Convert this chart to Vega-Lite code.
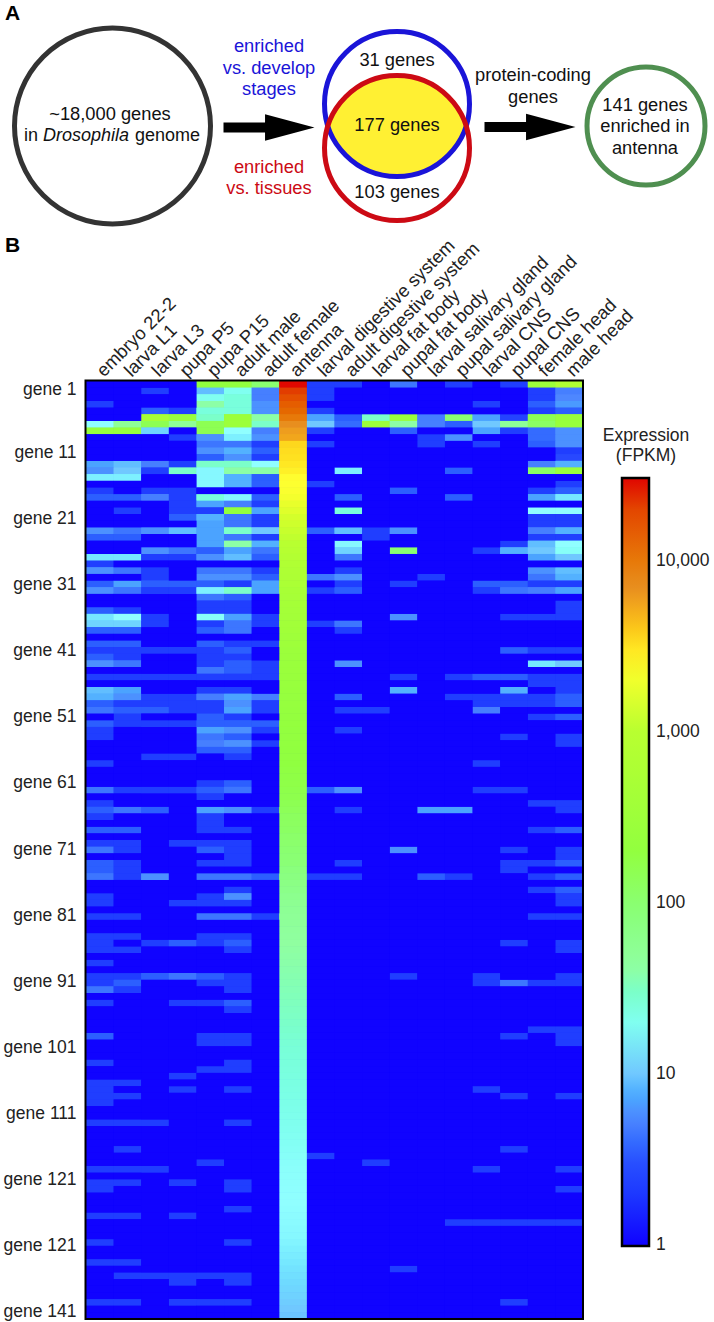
{"$schema":"https://vega.github.io/schema/vega-lite/v6.json","width":497,"height":938,"autosize":{"type":"none"},"padding":{"left":86,"top":381,"right":131,"bottom":3},"background":"white","config":{"view":{"stroke":null,"fill":"#1500ff"},"font":"Liberation Sans","text":{"font":"Liberation Sans"}},"resolve":{"scale":{"x":"independent","y":"independent","color":"independent"}},"layer":[{"data":{"values":[
{"g":1,"s":5,"v":200},{"g":1,"s":6,"v":200},{"g":1,"s":7,"v":100},{"g":1,"s":8,"v":30000},{"g":1,"s":9,"v":2.2},{"g":1,"s":10,"v":2.2},{"g":1,"s":12,"v":4.5},{"g":1,"s":14,"v":2.2},{"g":1,"s":16,"v":2.2},{"g":1,"s":17,"v":300},{"g":1,"s":18,"v":700},
{"g":2,"s":3,"v":2.2},{"g":2,"s":5,"v":9},{"g":2,"s":6,"v":20},{"g":2,"s":7,"v":5},{"g":2,"s":8,"v":22000},{"g":2,"s":9,"v":2.2},{"g":2,"s":17,"v":2.2},{"g":2,"s":18,"v":5},
{"g":3,"s":5,"v":20},{"g":3,"s":6,"v":25},{"g":3,"s":7,"v":5},{"g":3,"s":8,"v":18000},{"g":3,"s":9,"v":2.2},{"g":3,"s":17,"v":2.2},{"g":3,"s":18,"v":5.5},
{"g":4,"s":1,"v":2.2},{"g":4,"s":5,"v":40},{"g":4,"s":6,"v":25},{"g":4,"s":7,"v":6},{"g":4,"s":8,"v":15000},{"g":4,"s":15,"v":2.2},{"g":4,"s":17,"v":3.5},{"g":4,"s":18,"v":6.5},
{"g":5,"s":3,"v":3.5},{"g":5,"s":4,"v":2.2},{"g":5,"s":5,"v":25},{"g":5,"s":6,"v":25},{"g":5,"s":7,"v":6},{"g":5,"s":8,"v":13000},{"g":5,"s":9,"v":2.2},{"g":5,"s":17,"v":2.2},{"g":5,"s":18,"v":3.5},
{"g":6,"s":3,"v":450},{"g":6,"s":4,"v":250},{"g":6,"s":5,"v":30},{"g":6,"s":6,"v":300},{"g":6,"s":7,"v":40},{"g":6,"s":8,"v":10000},{"g":6,"s":9,"v":7},{"g":6,"s":10,"v":3.5},{"g":6,"s":11,"v":30},{"g":6,"s":12,"v":280},{"g":6,"s":13,"v":5},{"g":6,"s":14,"v":100},{"g":6,"s":15,"v":7},{"g":6,"s":16,"v":2.5},{"g":6,"s":17,"v":150},{"g":6,"s":18,"v":250},
{"g":7,"s":1,"v":16},{"g":7,"s":2,"v":50},{"g":7,"s":3,"v":150},{"g":7,"s":4,"v":50},{"g":7,"s":5,"v":150},{"g":7,"s":6,"v":300},{"g":7,"s":7,"v":30},{"g":7,"s":8,"v":7000},{"g":7,"s":9,"v":10},{"g":7,"s":10,"v":4},{"g":7,"s":11,"v":300},{"g":7,"s":12,"v":40},{"g":7,"s":13,"v":5},{"g":7,"s":14,"v":3.5},{"g":7,"s":15,"v":10},{"g":7,"s":16,"v":50},{"g":7,"s":17,"v":120},{"g":7,"s":18,"v":250},
{"g":8,"s":1,"v":250},{"g":8,"s":2,"v":250},{"g":8,"s":3,"v":11},{"g":8,"s":5,"v":150},{"g":8,"s":6,"v":16},{"g":8,"s":7,"v":5},{"g":8,"s":8,"v":6000},{"g":8,"s":9,"v":2.2},{"g":8,"s":12,"v":3.5},{"g":8,"s":15,"v":7},{"g":8,"s":16,"v":2.2},{"g":8,"s":17,"v":4},{"g":8,"s":18,"v":6},
{"g":9,"s":4,"v":2.2},{"g":9,"s":5,"v":6},{"g":9,"s":6,"v":14},{"g":9,"s":7,"v":6},{"g":9,"s":8,"v":5500},{"g":9,"s":13,"v":2.2},{"g":9,"s":14,"v":6},{"g":9,"s":17,"v":4},{"g":9,"s":18,"v":6},
{"g":10,"s":5,"v":4.5},{"g":10,"s":6,"v":4.5},{"g":10,"s":7,"v":2.2},{"g":10,"s":8,"v":3500},{"g":10,"s":9,"v":2.2},{"g":10,"s":13,"v":2.2},{"g":10,"s":15,"v":2.2},{"g":10,"s":17,"v":3.5},{"g":10,"s":18,"v":6},
{"g":11,"s":5,"v":6},{"g":11,"s":6,"v":8},{"g":11,"s":7,"v":3.5},{"g":11,"s":8,"v":3300},{"g":11,"s":18,"v":2.2},
{"g":12,"s":5,"v":3.5},{"g":12,"s":6,"v":6},{"g":12,"s":7,"v":2.2},{"g":12,"s":8,"v":3200},{"g":12,"s":18,"v":2.8},
{"g":13,"s":1,"v":7},{"g":13,"s":2,"v":9},{"g":13,"s":3,"v":5},{"g":13,"s":4,"v":2.2},{"g":13,"s":5,"v":30},{"g":13,"s":6,"v":30},{"g":13,"s":7,"v":16},{"g":13,"s":8,"v":3000},{"g":13,"s":17,"v":5},{"g":13,"s":18,"v":8},
{"g":14,"s":1,"v":6},{"g":14,"s":2,"v":10},{"g":14,"s":3,"v":2.2},{"g":14,"s":4,"v":30},{"g":14,"s":5,"v":15},{"g":14,"s":6,"v":40},{"g":14,"s":7,"v":40},{"g":14,"s":8,"v":2800},{"g":14,"s":10,"v":14},{"g":14,"s":14,"v":3.5},{"g":14,"s":17,"v":120},{"g":14,"s":18,"v":300},
{"g":15,"s":1,"v":14},{"g":15,"s":2,"v":14},{"g":15,"s":5,"v":15},{"g":15,"s":6,"v":8},{"g":15,"s":7,"v":3.5},{"g":15,"s":8,"v":2500},
{"g":16,"s":5,"v":15},{"g":16,"s":6,"v":8},{"g":16,"s":7,"v":3.5},{"g":16,"s":8,"v":2400},{"g":16,"s":9,"v":2.2},{"g":16,"s":18,"v":2.2},
{"g":17,"s":1,"v":2.2},{"g":17,"s":3,"v":2.2},{"g":17,"s":4,"v":2.2},{"g":17,"s":8,"v":2300},{"g":17,"s":12,"v":3.5},{"g":17,"s":17,"v":2.2},{"g":17,"s":18,"v":3.5},
{"g":18,"s":1,"v":3.5},{"g":18,"s":2,"v":3.5},{"g":18,"s":3,"v":5},{"g":18,"s":4,"v":2.2},{"g":18,"s":5,"v":25},{"g":18,"s":6,"v":15},{"g":18,"s":7,"v":3.5},{"g":18,"s":8,"v":2100},{"g":18,"s":10,"v":3.5},{"g":18,"s":14,"v":3.5},{"g":18,"s":17,"v":7},{"g":18,"s":18,"v":13},
{"g":19,"s":4,"v":2.2},{"g":19,"s":5,"v":7},{"g":19,"s":6,"v":5},{"g":19,"s":7,"v":2.2},{"g":19,"s":8,"v":1800},
{"g":20,"s":2,"v":2.2},{"g":20,"s":4,"v":2.2},{"g":20,"s":5,"v":2.2},{"g":20,"s":6,"v":200},{"g":20,"s":7,"v":7},{"g":20,"s":8,"v":1600},{"g":20,"s":10,"v":25},{"g":20,"s":17,"v":16},{"g":20,"s":18,"v":16},
{"g":21,"s":4,"v":3.5},{"g":21,"s":5,"v":8},{"g":21,"s":6,"v":4.5},{"g":21,"s":7,"v":2.2},{"g":21,"s":8,"v":1400},{"g":21,"s":17,"v":2.2},{"g":21,"s":18,"v":2.2},
{"g":22,"s":5,"v":7},{"g":22,"s":6,"v":4.5},{"g":22,"s":7,"v":2.2},{"g":22,"s":8,"v":1300},{"g":22,"s":17,"v":2.2},{"g":22,"s":18,"v":2.2},
{"g":23,"s":1,"v":6},{"g":23,"s":2,"v":4.5},{"g":23,"s":3,"v":6},{"g":23,"s":4,"v":9},{"g":23,"s":5,"v":7},{"g":23,"s":6,"v":30},{"g":23,"s":7,"v":10},{"g":23,"s":8,"v":1200},{"g":23,"s":9,"v":3.5},{"g":23,"s":10,"v":9},{"g":23,"s":11,"v":2.2},{"g":23,"s":12,"v":6},{"g":23,"s":17,"v":5},{"g":23,"s":18,"v":8},
{"g":24,"s":1,"v":3.5},{"g":24,"s":2,"v":3.5},{"g":24,"s":5,"v":7},{"g":24,"s":6,"v":4.5},{"g":24,"s":7,"v":2.2},{"g":24,"s":8,"v":1100},{"g":24,"s":11,"v":2.2},{"g":24,"s":17,"v":2.2},{"g":24,"s":18,"v":2.2},
{"g":25,"s":5,"v":7},{"g":25,"s":6,"v":40},{"g":25,"s":7,"v":8},{"g":25,"s":8,"v":1000},{"g":25,"s":10,"v":15},{"g":25,"s":16,"v":2.2},{"g":25,"s":17,"v":9},{"g":25,"s":18,"v":16},
{"g":26,"s":3,"v":6},{"g":26,"s":4,"v":4.5},{"g":26,"s":5,"v":3.5},{"g":26,"s":6,"v":7},{"g":26,"s":7,"v":4.5},{"g":26,"s":8,"v":900},{"g":26,"s":10,"v":11},{"g":26,"s":12,"v":100},{"g":26,"s":15,"v":2.2},{"g":26,"s":16,"v":8},{"g":26,"s":17,"v":10},{"g":26,"s":18,"v":18},
{"g":27,"s":1,"v":13},{"g":27,"s":2,"v":13},{"g":27,"s":3,"v":2.2},{"g":27,"s":4,"v":2.2},{"g":27,"s":5,"v":6},{"g":27,"s":6,"v":9},{"g":27,"s":7,"v":3.5},{"g":27,"s":8,"v":800},{"g":27,"s":10,"v":4.5},{"g":27,"s":17,"v":7},{"g":27,"s":18,"v":10},
{"g":28,"s":1,"v":2.2},{"g":28,"s":8,"v":700},
{"g":29,"s":1,"v":6},{"g":29,"s":2,"v":4.5},{"g":29,"s":3,"v":2.2},{"g":29,"s":5,"v":4.5},{"g":29,"s":6,"v":4.5},{"g":29,"s":7,"v":2.2},{"g":29,"s":8,"v":650},{"g":29,"s":10,"v":2.2},{"g":29,"s":17,"v":6},{"g":29,"s":18,"v":9},
{"g":30,"s":3,"v":2.2},{"g":30,"s":5,"v":6},{"g":30,"s":6,"v":6},{"g":30,"s":7,"v":3.5},{"g":30,"s":8,"v":600},{"g":30,"s":9,"v":4.5},{"g":30,"s":10,"v":6},{"g":30,"s":13,"v":2.2},{"g":30,"s":17,"v":4.5},{"g":30,"s":18,"v":8},
{"g":31,"s":1,"v":3.5},{"g":31,"s":2,"v":7},{"g":31,"s":3,"v":3.5},{"g":31,"s":4,"v":3.5},{"g":31,"s":5,"v":3.5},{"g":31,"s":6,"v":2.2},{"g":31,"s":7,"v":7},{"g":31,"s":8,"v":550},{"g":31,"s":10,"v":2.2},{"g":31,"s":12,"v":2.2},{"g":31,"s":15,"v":3.5},{"g":31,"s":16,"v":3.5},{"g":31,"s":17,"v":2.2},{"g":31,"s":18,"v":2.2},
{"g":32,"s":1,"v":6},{"g":32,"s":2,"v":4.5},{"g":32,"s":3,"v":2.2},{"g":32,"s":4,"v":2.2},{"g":32,"s":5,"v":14},{"g":32,"s":6,"v":30},{"g":32,"s":7,"v":7},{"g":32,"s":8,"v":500},{"g":32,"s":9,"v":2.2},{"g":32,"s":10,"v":3.5},{"g":32,"s":15,"v":2.2},{"g":32,"s":16,"v":4.5},{"g":32,"s":17,"v":5},{"g":32,"s":18,"v":7},
{"g":33,"s":5,"v":4.5},{"g":33,"s":6,"v":3.5},{"g":33,"s":8,"v":470},
{"g":34,"s":5,"v":2.2},{"g":34,"s":6,"v":2.2},{"g":34,"s":8,"v":440},{"g":34,"s":18,"v":2.2},
{"g":35,"s":1,"v":3.5},{"g":35,"s":2,"v":2.2},{"g":35,"s":5,"v":2.2},{"g":35,"s":6,"v":2.2},{"g":35,"s":8,"v":420},{"g":35,"s":18,"v":2.2},
{"g":36,"s":1,"v":13},{"g":36,"s":2,"v":16},{"g":36,"s":3,"v":2.2},{"g":36,"s":5,"v":18},{"g":36,"s":6,"v":7},{"g":36,"s":7,"v":2.2},{"g":36,"s":8,"v":400},{"g":36,"s":12,"v":6},{"g":36,"s":16,"v":2.2},{"g":36,"s":17,"v":2.2},{"g":36,"s":18,"v":2.2},
{"g":37,"s":1,"v":11},{"g":37,"s":2,"v":11},{"g":37,"s":3,"v":2.2},{"g":37,"s":5,"v":2.2},{"g":37,"s":6,"v":4.5},{"g":37,"s":7,"v":2.2},{"g":37,"s":8,"v":380},{"g":37,"s":9,"v":2.2},{"g":37,"s":10,"v":4.5},
{"g":38,"s":1,"v":3.5},{"g":38,"s":2,"v":3.5},{"g":38,"s":5,"v":3.5},{"g":38,"s":6,"v":4.5},{"g":38,"s":8,"v":360},{"g":38,"s":10,"v":2.2},
{"g":39,"s":8,"v":340},
{"g":40,"s":1,"v":3.5},{"g":40,"s":2,"v":3.5},{"g":40,"s":5,"v":3.5},{"g":40,"s":6,"v":2.2},{"g":40,"s":7,"v":2.2},{"g":40,"s":8,"v":320},
{"g":41,"s":1,"v":2.2},{"g":41,"s":2,"v":2.2},{"g":41,"s":3,"v":2.2},{"g":41,"s":4,"v":2.2},{"g":41,"s":5,"v":2.2},{"g":41,"s":6,"v":3.5},{"g":41,"s":8,"v":300},{"g":41,"s":16,"v":3.5},{"g":41,"s":17,"v":2.2},{"g":41,"s":18,"v":2.2},
{"g":42,"s":1,"v":3.5},{"g":42,"s":2,"v":2.2},{"g":42,"s":5,"v":2.2},{"g":42,"s":6,"v":2.2},{"g":42,"s":8,"v":290},
{"g":43,"s":1,"v":6},{"g":43,"s":2,"v":4.5},{"g":43,"s":5,"v":2.2},{"g":43,"s":6,"v":3.5},{"g":43,"s":7,"v":2.2},{"g":43,"s":8,"v":280},{"g":43,"s":10,"v":6},{"g":43,"s":17,"v":13},{"g":43,"s":18,"v":10},
{"g":44,"s":5,"v":4.5},{"g":44,"s":6,"v":3.5},{"g":44,"s":7,"v":2.2},{"g":44,"s":8,"v":270},
{"g":45,"s":1,"v":2.2},{"g":45,"s":2,"v":2.2},{"g":45,"s":3,"v":2.2},{"g":45,"s":4,"v":2.2},{"g":45,"s":5,"v":2.2},{"g":45,"s":6,"v":2.2},{"g":45,"s":7,"v":2.2},{"g":45,"s":8,"v":260},{"g":45,"s":12,"v":2.2},{"g":45,"s":14,"v":2.2},{"g":45,"s":15,"v":3.5},{"g":45,"s":16,"v":3.5},{"g":45,"s":17,"v":2.2},{"g":45,"s":18,"v":2.2},
{"g":46,"s":8,"v":250},{"g":46,"s":17,"v":2.2},{"g":46,"s":18,"v":2.2},
{"g":47,"s":1,"v":9},{"g":47,"s":2,"v":7},{"g":47,"s":5,"v":2.2},{"g":47,"s":6,"v":2.2},{"g":47,"s":8,"v":240},{"g":47,"s":12,"v":8},{"g":47,"s":16,"v":8},{"g":47,"s":18,"v":2.2},
{"g":48,"s":1,"v":8},{"g":48,"s":2,"v":6},{"g":48,"s":3,"v":2.2},{"g":48,"s":4,"v":2.2},{"g":48,"s":5,"v":5},{"g":48,"s":6,"v":7},{"g":48,"s":7,"v":5},{"g":48,"s":8,"v":235},{"g":48,"s":10,"v":3.5},{"g":48,"s":14,"v":2.2},{"g":48,"s":15,"v":2.2},{"g":48,"s":16,"v":2.2},{"g":48,"s":17,"v":2.2},{"g":48,"s":18,"v":3.5},
{"g":49,"s":1,"v":3.5},{"g":49,"s":2,"v":2.2},{"g":49,"s":3,"v":2.2},{"g":49,"s":4,"v":2.2},{"g":49,"s":5,"v":2.2},{"g":49,"s":6,"v":6},{"g":49,"s":7,"v":2.2},{"g":49,"s":8,"v":230},{"g":49,"s":15,"v":2.2},{"g":49,"s":16,"v":2.2},{"g":49,"s":17,"v":2.2},{"g":49,"s":18,"v":3.5},
{"g":50,"s":1,"v":4.5},{"g":50,"s":2,"v":3.5},{"g":50,"s":3,"v":3.5},{"g":50,"s":4,"v":2.2},{"g":50,"s":5,"v":2.2},{"g":50,"s":6,"v":7},{"g":50,"s":7,"v":2.2},{"g":50,"s":8,"v":225},{"g":50,"s":10,"v":2.2},{"g":50,"s":11,"v":2.2},{"g":50,"s":15,"v":5},
{"g":51,"s":2,"v":2.2},{"g":51,"s":5,"v":3.5},{"g":51,"s":6,"v":2.2},{"g":51,"s":8,"v":220},{"g":51,"s":17,"v":2.2},{"g":51,"s":18,"v":3.5},
{"g":52,"s":1,"v":3.5},{"g":52,"s":2,"v":2.2},{"g":52,"s":3,"v":2.2},{"g":52,"s":4,"v":2.2},{"g":52,"s":5,"v":3.5},{"g":52,"s":6,"v":3.5},{"g":52,"s":7,"v":3.5},{"g":52,"s":8,"v":215},
{"g":53,"s":1,"v":2.2},{"g":53,"s":5,"v":7},{"g":53,"s":6,"v":6},{"g":53,"s":7,"v":2.2},{"g":53,"s":8,"v":210},{"g":53,"s":10,"v":2.2},
{"g":54,"s":1,"v":2.2},{"g":54,"s":5,"v":4.5},{"g":54,"s":6,"v":3.5},{"g":54,"s":8,"v":205},{"g":54,"s":16,"v":2.2},{"g":54,"s":18,"v":2.2},
{"g":55,"s":5,"v":5},{"g":55,"s":6,"v":6},{"g":55,"s":7,"v":2.2},{"g":55,"s":8,"v":200},{"g":55,"s":18,"v":2.2},
{"g":56,"s":5,"v":3.5},{"g":56,"s":6,"v":3.5},{"g":56,"s":8,"v":195},
{"g":57,"s":3,"v":2.2},{"g":57,"s":4,"v":2.2},{"g":57,"s":6,"v":2.2},{"g":57,"s":8,"v":190},
{"g":58,"s":1,"v":2.2},{"g":58,"s":8,"v":185},{"g":58,"s":15,"v":2.2},
{"g":59,"s":8,"v":180},{"g":60,"s":8,"v":175},
{"g":61,"s":5,"v":2.2},{"g":61,"s":6,"v":3.5},{"g":61,"s":8,"v":170},
{"g":62,"s":1,"v":4.5},{"g":62,"s":2,"v":2.2},{"g":62,"s":3,"v":2.2},{"g":62,"s":4,"v":2.2},{"g":62,"s":5,"v":3.5},{"g":62,"s":6,"v":4.5},{"g":62,"s":8,"v":165},{"g":62,"s":9,"v":3.5},{"g":62,"s":10,"v":6},{"g":62,"s":15,"v":2.2},{"g":62,"s":16,"v":2.2},
{"g":63,"s":5,"v":2.2},{"g":63,"s":8,"v":160},
{"g":64,"s":1,"v":2.2},{"g":64,"s":8,"v":150},{"g":64,"s":17,"v":2.2},{"g":64,"s":18,"v":2.2},
{"g":65,"s":1,"v":3.5},{"g":65,"s":2,"v":4.5},{"g":65,"s":3,"v":3.5},{"g":65,"s":5,"v":7},{"g":65,"s":6,"v":6},{"g":65,"s":7,"v":2.2},{"g":65,"s":8,"v":140},{"g":65,"s":10,"v":2.2},{"g":65,"s":13,"v":7},{"g":65,"s":14,"v":7},{"g":65,"s":18,"v":2.2},
{"g":66,"s":1,"v":2.2},{"g":66,"s":5,"v":2.2},{"g":66,"s":8,"v":130},
{"g":67,"s":5,"v":2.2},{"g":67,"s":8,"v":125},
{"g":68,"s":1,"v":3.5},{"g":68,"s":2,"v":3.5},{"g":68,"s":5,"v":2.2},{"g":68,"s":6,"v":2.2},{"g":68,"s":8,"v":120},{"g":68,"s":17,"v":2.2},{"g":68,"s":18,"v":3.5},
{"g":69,"s":8,"v":110},
{"g":70,"s":1,"v":2.2},{"g":70,"s":2,"v":2.2},{"g":70,"s":4,"v":2.2},{"g":70,"s":5,"v":2.2},{"g":70,"s":6,"v":2.2},{"g":70,"s":8,"v":105},
{"g":71,"s":1,"v":4.5},{"g":71,"s":2,"v":2.2},{"g":71,"s":5,"v":3.5},{"g":71,"s":6,"v":2.2},{"g":71,"s":8,"v":100},{"g":71,"s":12,"v":6},{"g":71,"s":16,"v":2.2},{"g":71,"s":18,"v":2.2},
{"g":72,"s":6,"v":2.2},{"g":72,"s":8,"v":95},{"g":72,"s":18,"v":2.2},
{"g":73,"s":1,"v":3.5},{"g":73,"s":2,"v":2.2},{"g":73,"s":5,"v":2.2},{"g":73,"s":6,"v":2.2},{"g":73,"s":8,"v":90},{"g":73,"s":10,"v":2.2},{"g":73,"s":16,"v":2.2},{"g":73,"s":17,"v":2.2},{"g":73,"s":18,"v":3.5},
{"g":74,"s":1,"v":3.5},{"g":74,"s":2,"v":2.2},{"g":74,"s":8,"v":80},{"g":74,"s":16,"v":2.2},
{"g":75,"s":1,"v":4.5},{"g":75,"s":2,"v":2.2},{"g":75,"s":3,"v":6},{"g":75,"s":5,"v":4.5},{"g":75,"s":6,"v":4.5},{"g":75,"s":7,"v":3.5},{"g":75,"s":8,"v":75},{"g":75,"s":9,"v":2.2},{"g":75,"s":10,"v":2.2},{"g":75,"s":13,"v":3.5},{"g":75,"s":14,"v":2.2},{"g":75,"s":17,"v":2.2},{"g":75,"s":18,"v":3.5},
{"g":76,"s":8,"v":70},
{"g":77,"s":6,"v":2.2},{"g":77,"s":8,"v":65},{"g":77,"s":17,"v":2.2},{"g":77,"s":18,"v":3.5},
{"g":78,"s":1,"v":2.2},{"g":78,"s":5,"v":2.2},{"g":78,"s":6,"v":6},{"g":78,"s":8,"v":60},{"g":78,"s":18,"v":2.2},
{"g":79,"s":1,"v":2.2},{"g":79,"s":4,"v":2.2},{"g":79,"s":5,"v":2.2},{"g":79,"s":6,"v":2.2},{"g":79,"s":8,"v":55},{"g":79,"s":18,"v":2.2},
{"g":80,"s":8,"v":52},
{"g":81,"s":1,"v":2.2},{"g":81,"s":2,"v":2.2},{"g":81,"s":5,"v":4.5},{"g":81,"s":6,"v":4.5},{"g":81,"s":7,"v":2.2},{"g":81,"s":8,"v":50},{"g":81,"s":17,"v":2.2},{"g":81,"s":18,"v":2.2},
{"g":82,"s":8,"v":48},{"g":83,"s":8,"v":46},
{"g":84,"s":1,"v":2.2},{"g":84,"s":2,"v":2.2},{"g":84,"s":5,"v":2.2},{"g":84,"s":6,"v":2.2},{"g":84,"s":8,"v":44},
{"g":85,"s":1,"v":2.2},{"g":85,"s":3,"v":2.2},{"g":85,"s":4,"v":3.5},{"g":85,"s":5,"v":2.2},{"g":85,"s":6,"v":3.5},{"g":85,"s":8,"v":42},{"g":85,"s":16,"v":2.2},{"g":85,"s":18,"v":2.2},
{"g":86,"s":1,"v":2.2},{"g":86,"s":2,"v":2.2},{"g":86,"s":6,"v":2.2},{"g":86,"s":8,"v":41},{"g":86,"s":18,"v":2.2},
{"g":87,"s":8,"v":40},
{"g":88,"s":1,"v":2.2},{"g":88,"s":8,"v":39},
{"g":89,"s":8,"v":38},
{"g":90,"s":1,"v":2.2},{"g":90,"s":2,"v":2.2},{"g":90,"s":3,"v":3.5},{"g":90,"s":4,"v":4.5},{"g":90,"s":5,"v":3.5},{"g":90,"s":6,"v":2.2},{"g":90,"s":8,"v":37},{"g":90,"s":12,"v":2.2},{"g":90,"s":15,"v":2.2},{"g":90,"s":18,"v":2.2},
{"g":91,"s":1,"v":2.2},{"g":91,"s":2,"v":3.5},{"g":91,"s":5,"v":2.2},{"g":91,"s":6,"v":2.2},{"g":91,"s":8,"v":36},{"g":91,"s":15,"v":2.2},{"g":91,"s":16,"v":4.5},{"g":91,"s":17,"v":2.2},{"g":91,"s":18,"v":2.2},
{"g":92,"s":1,"v":4.5},{"g":92,"s":2,"v":2.2},{"g":92,"s":6,"v":2.2},{"g":92,"s":8,"v":35},
{"g":93,"s":8,"v":34},
{"g":94,"s":1,"v":2.2},{"g":94,"s":4,"v":2.2},{"g":94,"s":5,"v":2.2},{"g":94,"s":6,"v":3.5},{"g":94,"s":8,"v":33},
{"g":95,"s":6,"v":2.2},{"g":95,"s":8,"v":32},
{"g":96,"s":8,"v":31},{"g":97,"s":8,"v":30},
{"g":98,"s":8,"v":29},{"g":98,"s":17,"v":2.2},{"g":98,"s":18,"v":2.2},
{"g":99,"s":1,"v":3.5},{"g":99,"s":5,"v":2.2},{"g":99,"s":6,"v":2.2},{"g":99,"s":8,"v":28},{"g":99,"s":16,"v":2.2},{"g":99,"s":18,"v":2.2},
{"g":100,"s":5,"v":2.2},{"g":100,"s":6,"v":2.2},{"g":100,"s":8,"v":27},{"g":100,"s":18,"v":2.2},
{"g":101,"s":8,"v":26},{"g":102,"s":8,"v":25.5},
{"g":103,"s":1,"v":2.2},{"g":103,"s":6,"v":2.2},{"g":103,"s":8,"v":25},
{"g":104,"s":5,"v":2.2},{"g":104,"s":6,"v":2.2},{"g":104,"s":8,"v":24.5},
{"g":105,"s":4,"v":2.2},{"g":105,"s":8,"v":24},
{"g":106,"s":1,"v":2.2},{"g":106,"s":2,"v":2.2},{"g":106,"s":8,"v":23.5},
{"g":107,"s":1,"v":2.2},{"g":107,"s":4,"v":2.2},{"g":107,"s":6,"v":2.2},{"g":107,"s":8,"v":23},{"g":107,"s":15,"v":2.2},
{"g":108,"s":1,"v":2.2},{"g":108,"s":2,"v":2.2},{"g":108,"s":8,"v":22.5},{"g":108,"s":16,"v":2.2},{"g":108,"s":18,"v":2.2},
{"g":109,"s":1,"v":2.2},{"g":109,"s":8,"v":22},
{"g":110,"s":8,"v":21.5},{"g":111,"s":8,"v":21},
{"g":112,"s":1,"v":2.2},{"g":112,"s":2,"v":2.2},{"g":112,"s":3,"v":2.2},{"g":112,"s":6,"v":2.2},{"g":112,"s":8,"v":20.5},
{"g":113,"s":8,"v":20},{"g":114,"s":8,"v":19.5},{"g":115,"s":8,"v":19},
{"g":116,"s":2,"v":2.2},{"g":116,"s":8,"v":18.5},{"g":116,"s":16,"v":2.2},
{"g":117,"s":8,"v":18},{"g":117,"s":9,"v":2.2},
{"g":118,"s":5,"v":2.2},{"g":118,"s":8,"v":17.5},{"g":118,"s":11,"v":2.2},
{"g":119,"s":1,"v":2.2},{"g":119,"s":2,"v":2.2},{"g":119,"s":3,"v":2.2},{"g":119,"s":8,"v":17},{"g":119,"s":15,"v":2.2},{"g":119,"s":18,"v":2.2},
{"g":120,"s":8,"v":16.8},
{"g":121,"s":1,"v":2.2},{"g":121,"s":2,"v":2.2},{"g":121,"s":4,"v":2.2},{"g":121,"s":6,"v":2.2},{"g":121,"s":8,"v":16.6},
{"g":122,"s":1,"v":2.2},{"g":122,"s":6,"v":2.2},{"g":122,"s":8,"v":16.4},{"g":122,"s":18,"v":2.2},
{"g":123,"s":8,"v":16.2},{"g":124,"s":8,"v":16},
{"g":125,"s":6,"v":2.2},{"g":125,"s":8,"v":15.8},
{"g":126,"s":1,"v":2.2},{"g":126,"s":2,"v":2.2},{"g":126,"s":4,"v":2.2},{"g":126,"s":8,"v":15.6},
{"g":127,"s":8,"v":15.4},{"g":127,"s":14,"v":2.2},{"g":127,"s":15,"v":2.2},{"g":127,"s":16,"v":2.2},{"g":127,"s":17,"v":2.2},{"g":127,"s":18,"v":2.2},
{"g":128,"s":8,"v":15.2},{"g":129,"s":8,"v":15},
{"g":130,"s":1,"v":2.2},{"g":130,"s":6,"v":2.2},{"g":130,"s":8,"v":14.5},
{"g":131,"s":8,"v":14},{"g":132,"s":8,"v":13.5},
{"g":133,"s":1,"v":2.2},{"g":133,"s":2,"v":2.2},{"g":133,"s":8,"v":13},
{"g":134,"s":8,"v":12.5},{"g":134,"s":12,"v":2.2},
{"g":135,"s":2,"v":2.2},{"g":135,"s":3,"v":2.2},{"g":135,"s":4,"v":2.2},{"g":135,"s":5,"v":2.2},{"g":135,"s":6,"v":2.2},{"g":135,"s":8,"v":12},
{"g":136,"s":4,"v":2.2},{"g":136,"s":6,"v":2.2},{"g":136,"s":8,"v":11.6},
{"g":137,"s":8,"v":11.2},{"g":138,"s":8,"v":10.8},
{"g":139,"s":1,"v":2.2},{"g":139,"s":2,"v":2.2},{"g":139,"s":4,"v":2.2},{"g":139,"s":5,"v":2.2},{"g":139,"s":6,"v":2.2},{"g":139,"s":8,"v":10.4},{"g":139,"s":16,"v":2.2},
{"g":140,"s":8,"v":10},{"g":141,"s":8,"v":9.6}
]},"transform":[{"impute":"v","key":"s","keyvals":[1,2,3,4,5,6,7,8,9,10,11,12,13,14,15,16,17,18],"groupby":["g"],"value":1},{"lookup":"s","from":{"data":{"values":[{"s":1,"stage":"embryo 22-2"},{"s":2,"stage":"larva L1"},{"s":3,"stage":"larva L3"},{"s":4,"stage":"pupa P5"},{"s":5,"stage":"pupa P15"},{"s":6,"stage":"adult male"},{"s":7,"stage":"adult female"},{"s":8,"stage":"antenna"},{"s":9,"stage":"larval digestive system"},{"s":10,"stage":"adult digestive system"},{"s":11,"stage":"larval fat body"},{"s":12,"stage":"pupal fat body"},{"s":13,"stage":"larval salivary gland"},{"s":14,"stage":"pupal salivary gland"},{"s":15,"stage":"larval CNS"},{"s":16,"stage":"pupal CNS"},{"s":17,"stage":"female head"},{"s":18,"stage":"male head"}]},"key":"s","fields":["stage"]}}],"layer":[{"mark":{"type":"rect"}},{"mark":{"type":"rect"}},{"mark":{"type":"rect"}}],"encoding":{"x":{"field":"stage","type":"nominal","scale":{"domain":["embryo 22-2","larva L1","larva L3","pupa P5","pupa P15","adult male","adult female","antenna","larval digestive system","adult digestive system","larval fat body","pupal fat body","larval salivary gland","pupal salivary gland","larval CNS","pupal CNS","female head","male head"],"paddingInner":0,"paddingOuter":0},"axis":{"orient":"top","title":null,"labelAngle":-45,"labelAlign":"left","labelBaseline":"middle","labelFontSize":18.4,"labelColor":"#222","labelFont":"Liberation Sans","labelPadding":8,"ticks":false,"domain":false,"grid":false,"labelLimit":300,"labelOverlap":false}},"y":{"field":"g","type":"ordinal","scale":{"paddingInner":0,"paddingOuter":0},"axis":{"title":null,"values":[1,11,21,31,41,51,61,71,81,91,101,111,121,131,141],"labelExpr":"datum.value==131?'gene 121':'gene '+datum.value","labelFontSize":17.5,"labelColor":"#222","labelFont":"Liberation Sans","labelPadding":10,"ticks":false,"domain":false,"grid":false,"labelOverlap":false,"labelAngle":0,"labelOffset":{"expr":"datum.value==1?6:2+(11-datum.value)*0.04"}}},"color":{"field":"v","type":"quantitative","scale":{"type":"log","domain":[0.98,2.8,5.6,10,16,42,185,1000,2450,6800,30600],"range":["#1000ff","#2848ff","#5088ff","#70c8ff","#90ffff","#90ffa0","#90ff40","#b8ff30","#ffff30","#e89020","#e00000"]},"legend":{"type":"gradient","orient":"none","legendX":517,"legendY":46,"title":["Expression","(FPKM)"],"titleFontSize":17.5,"titleFont":"Liberation Sans","titleFontWeight":"normal","titleColor":"#222","titlePadding":14,"gradientLength":768,"gradientThickness":27,"gradientStrokeColor":"black","gradientStrokeWidth":2.5,"values":[1,10,100,1000,10000],"format":",","labelFontSize":17.5,"labelFont":"Liberation Sans","labelColor":"#222","labelOffset":7,"encode":{"title":{"update":{"dx":{"value":24},"align":{"value":"center"}}}}}}}},{"layer":[
{"data":{"values":[{"x":397,"y":126}]},"mark":{"type":"point","filled":true,"fill":"#fff033","stroke":null,"opacity":1,"size":21025,"shape":"M-0.953,0 A1,1 0 0 1 0.953,0 A1,1 0 0 1 -0.953,0 Z"},"encoding":{"x":{"field":"x","type":"quantitative","scale":{"domain":[0,714],"range":[-86,628],"nice":false,"zero":false},"axis":null},"y":{"field":"y","type":"quantitative","scale":{"domain":[0,1322],"range":[-381,941],"nice":false,"zero":false},"axis":null}}},
{"data":{"values":[{"name":"genome","x":112.5,"y":126,"area":38416},{"name":"develop","x":397,"y":104,"area":21025},{"name":"tissues","x":397,"y":148,"area":21025},{"name":"antenna","x":646,"y":126,"area":13924}]},"mark":{"type":"point","filled":false,"strokeWidth":5,"opacity":1},"encoding":{"x":{"field":"x","type":"quantitative","scale":{"domain":[0,714],"range":[-86,628],"nice":false,"zero":false},"axis":null},"y":{"field":"y","type":"quantitative","scale":{"domain":[0,1322],"range":[-381,941],"nice":false,"zero":false},"axis":null},"size":{"field":"area","type":"quantitative","scale":null},"stroke":{"field":"name","type":"nominal","scale":{"domain":["genome","develop","tissues","antenna"],"range":["#333333","#1a14d8","#cc0a14","#4f8f50"]},"legend":null}}},
{"data":{"values":[{"x":269,"y":127.5},{"x":530,"y":127}]},"mark":{"type":"point","filled":true,"fill":"black","stroke":null,"opacity":1,"size":8281,"shape":"M-1,-0.109 L-0.087,-0.109 L-0.087,-0.293 L1,0 L-0.087,0.293 L-0.087,0.109 L-1,0.109 Z"},"encoding":{"x":{"field":"x","type":"quantitative","scale":{"domain":[0,714],"range":[-86,628],"nice":false,"zero":false},"axis":null},"y":{"field":"y","type":"quantitative","scale":{"domain":[0,1322],"range":[-381,941],"nice":false,"zero":false},"axis":null}}},
{"data":{"values":[{"x":110,"y":115,"t":"~18,000 genes","c":"k"},{"x":269,"y":47,"t":"enriched","c":"b"},{"x":269,"y":69,"t":"vs. develop","c":"b"},{"x":269,"y":90,"t":"stages","c":"b"},{"x":269,"y":168,"t":"enriched","c":"r"},{"x":269,"y":189,"t":"vs. tissues","c":"r"},{"x":397,"y":61,"t":"31 genes","c":"k"},{"x":397,"y":126,"t":"177 genes","c":"k"},{"x":397,"y":193,"t":"103 genes","c":"k"},{"x":533,"y":76,"t":"protein-coding","c":"k"},{"x":533,"y":98,"t":"genes","c":"k"},{"x":645,"y":106,"t":"141 genes","c":"k"},{"x":645,"y":127,"t":"enriched in","c":"k"},{"x":645,"y":149,"t":"antenna","c":"k"}]},"mark":{"type":"text","fontSize":18.3,"font":"Liberation Sans","align":"center","baseline":"middle"},"encoding":{"x":{"field":"x","type":"quantitative","scale":{"domain":[0,714],"range":[-86,628],"nice":false,"zero":false},"axis":null},"y":{"field":"y","type":"quantitative","scale":{"domain":[0,1322],"range":[-381,941],"nice":false,"zero":false},"axis":null},"text":{"field":"t"},"color":{"field":"c","type":"nominal","scale":{"domain":["k","b","r"],"range":["#111111","#1a14d8","#cc0a14"]},"legend":null}}},
{"data":{"values":[{"x":24,"y":136,"t":"in"},{"x":135,"y":136,"t":"genome"}]},"mark":{"type":"text","fontSize":18,"font":"Liberation Sans","align":"left","baseline":"middle","color":"#111111"},"encoding":{"x":{"field":"x","type":"quantitative","scale":{"domain":[0,714],"range":[-86,628],"nice":false,"zero":false},"axis":null},"y":{"field":"y","type":"quantitative","scale":{"domain":[0,1322],"range":[-381,941],"nice":false,"zero":false},"axis":null},"text":{"field":"t"}}},
{"data":{"values":[{"x":43,"y":136,"t":"Drosophila"}]},"mark":{"type":"text","fontSize":18,"font":"Liberation Sans","fontStyle":"italic","align":"left","baseline":"middle","color":"#111111"},"encoding":{"x":{"field":"x","type":"quantitative","scale":{"domain":[0,714],"range":[-86,628],"nice":false,"zero":false},"axis":null},"y":{"field":"y","type":"quantitative","scale":{"domain":[0,1322],"range":[-381,941],"nice":false,"zero":false},"axis":null},"text":{"field":"t"}}},
{"data":{"values":[{"x":5,"y":14,"t":"A"},{"x":5,"y":246,"t":"B"}]},"mark":{"type":"text","fontSize":21,"font":"Liberation Sans","fontWeight":"bold","align":"left","baseline":"middle","color":"black"},"encoding":{"x":{"field":"x","type":"quantitative","scale":{"domain":[0,714],"range":[-86,628],"nice":false,"zero":false},"axis":null},"y":{"field":"y","type":"quantitative","scale":{"domain":[0,1322],"range":[-381,941],"nice":false,"zero":false},"axis":null},"text":{"field":"t"}}},
{"data":{"values":[{"x":85.5,"x2":583,"y":380.5,"y2":1319}]},"mark":{"type":"rect","fill":null,"stroke":"black","strokeWidth":2},"encoding":{"x":{"field":"x","type":"quantitative","scale":{"domain":[0,714],"range":[-86,628],"nice":false,"zero":false},"axis":null},"x2":{"field":"x2"},"y":{"field":"y","type":"quantitative","scale":{"domain":[0,1322],"range":[-381,941],"nice":false,"zero":false},"axis":{"orient":"left","offset":-565,"values":[561,732,903,1074],"labels":false,"domain":false,"grid":false,"title":null,"ticks":true,"tickSize":29,"tickColor":"black","tickWidth":2,"tickDash":[6,17,6],"zindex":1}},"y2":{"field":"y2"}}}
]}]}
